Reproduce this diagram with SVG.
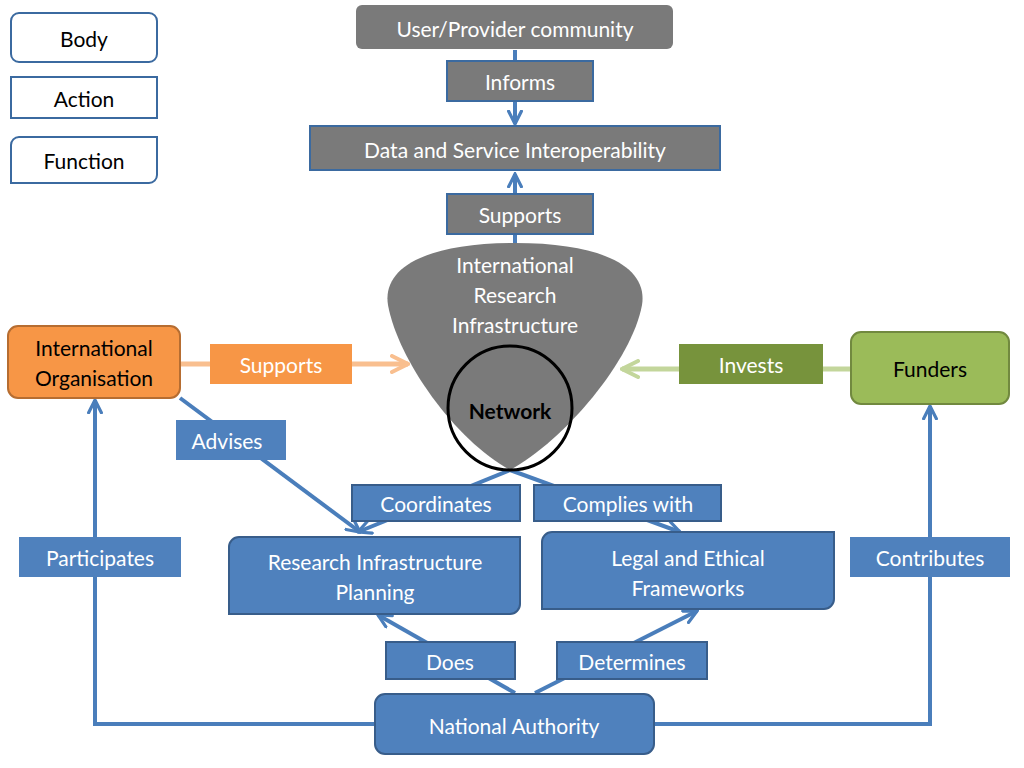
<svg xmlns="http://www.w3.org/2000/svg" width="1024" height="768" viewBox="0 0 1024 768">
<style>
text{font-family:Lato,"Open Sans",sans-serif;font-size:21px;text-anchor:middle;dominant-baseline:central}
.w{fill:#fff}.k{fill:#000}
.leg{fill:#fff;stroke:#3b6aa0;stroke-width:2}
.g{fill:#7a7a7a;stroke:#3b6aa0;stroke-width:2}
.b{fill:#4f81bd;stroke:#385d8a;stroke-width:2}
.c{fill:none;stroke:#4a7ebb;stroke-width:4}
</style>
<defs>
<marker id="a" viewBox="0 0 10 10" refX="9" refY="5" markerWidth="4" markerHeight="4" orient="auto" markerUnits="strokeWidth"><path d="M1,1 L9,5 L1,9" fill="none" stroke="context-stroke" stroke-width="2" stroke-linecap="round"/></marker>
</defs>
<g id="connectors">
<line class="c" x1="515" y1="50" x2="515" y2="124" marker-end="url(#a)"/>
<line class="c" x1="515" y1="243" x2="515" y2="174" marker-end="url(#a)"/>
<line x1="180" y1="364" x2="408" y2="364" stroke="#f9bf8f" stroke-width="5" marker-end="url(#a)"/>
<line x1="850" y1="369" x2="622" y2="369" stroke="#c3d69b" stroke-width="5" marker-end="url(#a)"/>
<polyline class="c" points="180,398 360,532" marker-end="url(#a)"/>
<polyline class="c" points="510,470 358,532" marker-end="url(#a)"/>
<polyline class="c" points="510,470 680,532" marker-end="url(#a)"/>
<polyline class="c" points="515,693 378,615" marker-end="url(#a)"/>
<polyline class="c" points="535,693 697,611" marker-end="url(#a)"/>
<polyline class="c" points="376,724 95,724 95,400" marker-end="url(#a)"/>
<polyline class="c" points="654,724 930,724 930,406" marker-end="url(#a)"/>
</g>
<g id="legend-body"><rect class="leg" x="11" y="13" width="146" height="49" rx="8"/><text x="84" y="38" class="k">Body</text></g>
<g id="legend-action"><rect class="leg" x="11" y="77" width="146" height="41"/><text x="84" y="98" class="k">Action</text></g>
<g id="legend-function"><path class="leg" d="M19,137 H157 V175 a8,8 0 0 1 -8,8 H11 V145 a8,8 0 0 1 8,-8Z"/><text x="84" y="160" class="k">Function</text></g>
<g id="user"><rect x="356" y="5" width="317" height="44" rx="6" fill="#7a7a7a"/><text x="515" y="28" class="w">User/Provider community</text></g>
<g id="informs"><rect class="g" x="447" y="61" width="146" height="40"/><text x="520" y="81" class="w">Informs</text></g>
<g id="dsi"><rect class="g" x="310" y="126" width="410" height="44"/><text x="515" y="149" class="w">Data and Service Interoperability</text></g>
<g id="supports-top"><rect class="g" x="447" y="194" width="146" height="40"/><text x="520" y="214" class="w">Supports</text></g>
<g id="iri"><path d="M515,243 C605,243 648,268 642,305 C632,360 565,440 510,470 C455,440 398,360 388,305 C382,268 425,243 515,243Z" fill="#7a7a7a"/>
<text x="515" y="264" class="w">International</text><text x="515" y="294" class="w">Research</text><text x="515" y="324" class="w">Infrastructure</text>
<circle cx="510" cy="408" r="62" fill="none" stroke="#000" stroke-width="3"/><text x="510" y="410" class="k" font-weight="bold">Network</text></g>
<g id="intorg"><rect x="8" y="326" width="172" height="72" rx="10" fill="#f79646" stroke="#b66d31" stroke-width="2"/><text x="94" y="347" class="k">International</text><text x="94" y="377" class="k">Organisation</text></g>
<g id="supports-left"><rect x="210" y="344" width="142" height="40" fill="#f79646"/><text x="281" y="364" class="w">Supports</text></g>
<g id="funders"><rect x="851" y="332" width="158" height="72" rx="10" fill="#9bbb59" stroke="#71893f" stroke-width="2"/><text x="930" y="368" class="k">Funders</text></g>
<g id="invests"><rect x="679" y="344" width="144" height="40" fill="#77933c"/><text x="751" y="364" class="w">Invests</text></g>
<g id="advises"><rect x="176" y="420" width="110" height="40" fill="#4f81bd"/><text x="227" y="440" class="w">Advises</text></g>
<g id="coordinates"><rect class="b" x="352" y="485" width="168" height="36"/><text x="436" y="503" class="w">Coordinates</text></g>
<g id="complies"><rect class="b" x="534" y="485" width="187" height="36"/><text x="628" y="503" class="w">Complies with</text></g>
<g id="planning"><path class="b" d="M240,537 H520 V604 a10,10 0 0 1 -10,10 H229 V547 a10,10 0 0 1 10,-10Z"/><text x="375" y="561" class="w">Research Infrastructure</text><text x="375" y="591" class="w">Planning</text></g>
<g id="legal"><path class="b" d="M553,532 H834 V599 a10,10 0 0 1 -10,10 H542 V542 a10,10 0 0 1 10,-10Z"/><text x="688" y="557" class="w">Legal and Ethical</text><text x="688" y="587" class="w">Frameworks</text></g>
<g id="participates"><rect x="19" y="537" width="162" height="40" fill="#4f81bd"/><text x="100" y="557" class="w">Participates</text></g>
<g id="contributes"><rect x="850" y="537" width="160" height="40" fill="#4f81bd"/><text x="930" y="557" class="w">Contributes</text></g>
<g id="does"><rect class="b" x="386" y="642" width="129" height="37"/><text x="450" y="661" class="w">Does</text></g>
<g id="determines"><rect class="b" x="557" y="642" width="150" height="37"/><text x="632" y="661" class="w">Determines</text></g>
<g id="national"><rect class="b" x="375" y="694" width="279" height="60" rx="10"/><text x="514" y="725" class="w">National Authority</text></g>
</svg>
